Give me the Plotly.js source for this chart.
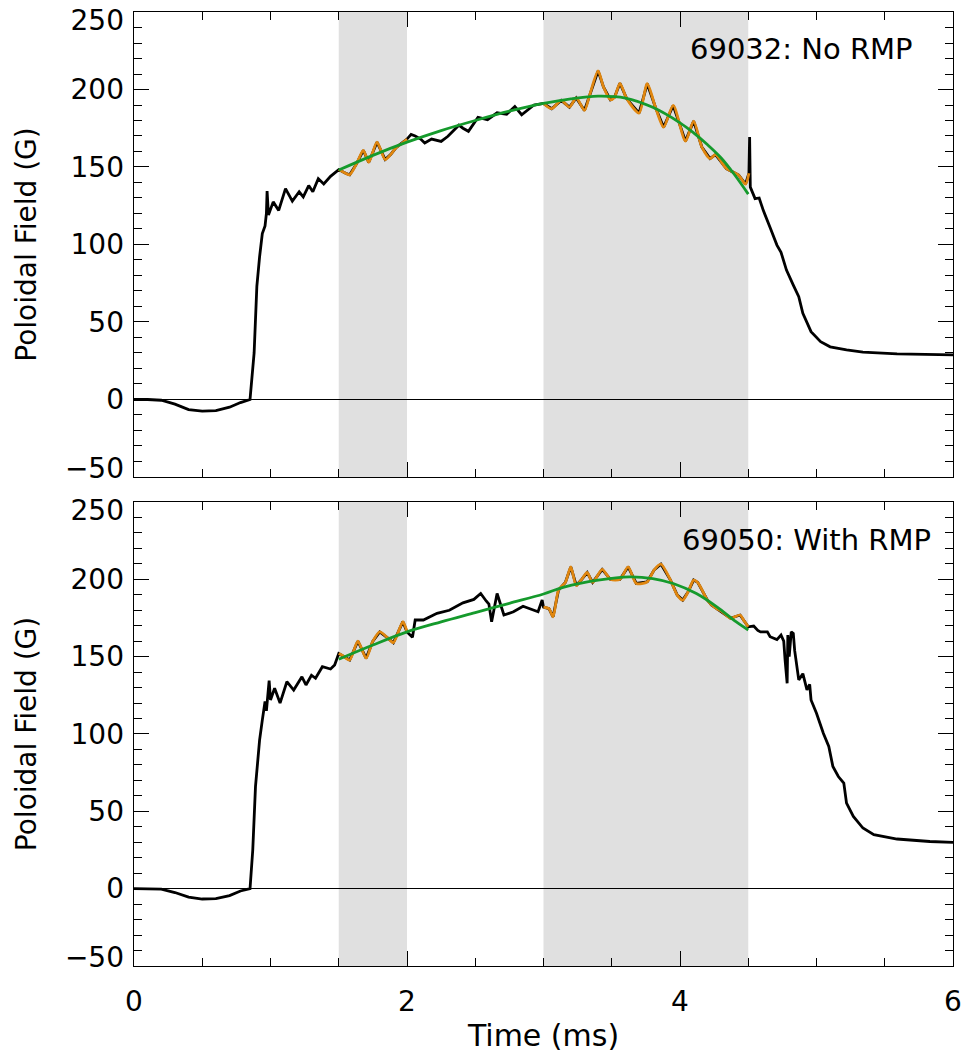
<!DOCTYPE html>
<html>
<head>
<meta charset="utf-8">
<script src="https://cdn.plot.ly/plotly-3.0.1.min.js"></script>
<style>html,body{margin:0;padding:0;background:#fff;}#chart{width:963px;height:1055px;}</style>
</head>
<body>
<div id="chart"></div>
<script>
// Shot 69032 (No RMP) - poloidal field trace
const time_69032 = [0,0.10,0.20,0.30,0.40,0.50,0.60,0.70,0.78,0.85,0.88,0.90,0.92,0.94,0.96,0.97,0.975,0.985,1.02,1.06,1.11,1.16,1.21,1.24,1.28,1.31,1.35,1.39,1.44,1.50,
  1.55,1.58,1.63,1.68,1.72,1.78,1.84,1.88,1.92,1.96,2.00,
  2.03,2.06,2.10,2.13,2.18,2.25,2.30,2.38,2.41,2.45,2.52,2.59,2.66,2.73,2.79,2.84,2.93,3.00,
  3.06,3.13,3.19,3.24,3.30,3.34,3.40,3.44,3.49,3.52,3.56,3.61,3.70,3.76,3.82,3.88,3.95,4.04,4.10,4.16,4.22,4.26,4.34,4.43,4.48,4.505,
  4.51,4.515,4.55,4.58,4.61,4.66,4.71,4.74,4.78,4.83,4.87,4.90,4.96,5.03,5.10,5.22,5.34,5.59,6.00];
const field_69032 = [0,0,-0.5,-3,-6.5,-7.5,-7.2,-5,-2,0,30,73,92,107,112,120,134.5,119,127.5,122,136,128,134,130.7,138,134,142.5,139,144,148.3,
  146,145,152,160.7,153,166,154.8,158,162.5,165,168,
  171,170,168,165.5,168,166.5,169.8,177,175,173,182,180.5,185,184,189,183.7,190,191,
  187.6,193,188.6,194.6,186.5,197,212,201.5,193.4,195,204,194,184.8,203.7,188.6,175.7,189.7,166.7,179.6,162.9,155.4,158,149,144.7,138.9,146,
  169.3,137,129.6,130,122,111,99.6,95,83.5,73.8,66.3,55.6,43.8,37.3,34,32,30.5,29.4,28.8];
// Fit curve 69032
const fitTime_69032 = [1.5,1.75,2.0,2.25,2.5,2.75,3.0,3.2,3.4,3.6,3.8,4.0,4.1,4.2,4.3,4.4,4.5];
const fitField_69032 = [148,157.5,166,173.5,180,186,191,194,195.7,194.5,188.5,178.5,172,164.5,156,145,132.5];

// Shot 69050 (With RMP)
const time_69050 = [0,0.10,0.20,0.30,0.40,0.50,0.60,0.70,0.78,0.85,0.87,0.89,0.92,0.94,0.96,0.97,0.99,1.00,1.03,1.07,1.12,1.17,1.23,1.26,1.30,1.33,1.38,1.44,1.47,1.50,
  1.53,1.58,1.64,1.70,1.75,1.80,1.86,1.90,1.97,2.00,
  2.04,2.06,2.12,2.17,2.22,2.31,2.41,2.49,2.54,2.58,2.60,2.62,2.66,2.71,2.78,2.85,2.90,2.96,2.99,
  3.00,3.04,3.07,3.11,3.16,3.20,3.24,3.28,3.32,3.36,3.43,3.49,3.56,3.62,3.68,3.76,3.81,3.86,3.93,3.98,4.02,4.06,4.10,4.13,4.20,4.23,4.27,4.31,4.37,4.44,4.47,4.50,
  4.54,4.57,4.59,4.64,4.66,4.71,4.74,4.76,4.77,4.785,4.79,4.80,4.815,4.83,4.84,4.87,4.90,4.93,4.95,4.96,5.00,5.05,5.09,5.12,5.16,5.20,5.22,5.27,5.34,5.42,5.59,5.83,6.00];
const field_69050 = [0,0,-0.3,-2.5,-5.5,-6.7,-6.5,-4.5,-1.5,0,25,66,96,109,121,115,134.5,122,129.6,120,133.8,128.4,137,131.7,138,136,143.5,142,144.6,152,
  150.6,147.8,160,149,160,166,162,159,172.6,166,
  162.5,173.7,173.7,176,178,180,184.8,187,190.8,186,184,172.5,190.8,176.9,179,182.6,181,179,186.6,
  182,181,175.8,193,198,208,196,200,204.4,198,206.4,200,200,208,197.3,198.4,206,209.8,199.5,189.8,186.6,192,199.5,198,186.6,183.5,181,179,174.8,176.9,173,169.3,
  169.8,167,166,166,162.9,161,164,160,147.8,132.8,164,150,166,165,154,135,139,128.5,132,122,113.4,100.5,91.9,79,72.5,68.2,55.3,46.7,39.2,34.9,32.1,30.5,29.9];
const fitTime_69050 = [1.5,1.75,2.0,2.25,2.5,2.75,3.0,3.15,3.4,3.63,3.8,3.95,4.12,4.27,4.41,4.5];
const fitField_69050 = [148.3,157.5,166,172.5,178.5,184.5,190.5,195,199.5,201.6,200.5,197.3,190.8,182.2,172.6,167.2];

// Analysis windows (ms)
const windows = [[1.5,2.0],[3.0,4.5]];
const labels = ['69032: No RMP','69050: With RMP'];
// y tick labels (end labels sit slightly inside the frame, as in the original)
const yTickText = ['\u221250','0','50','100','150','200','250'];
const yTickPos = [-44.5,0,50,100,150,200,244.5];

function windowed(t, y) {
  const ox = [], oy = [];
  windows.forEach((w, i) => {
    if (i > 0) { ox.push(null); oy.push(null); }
    for (let k = 0; k < t.length; k++) {
      if (t[k] >= w[0] && t[k] <= w[1] + 0.006) { ox.push(t[k]); oy.push(y[k]); }
    }
  });
  return [ox, oy];
}

const BLACK = '#000000', ORANGE = '#E0860F', GREEN = '#159A2C';
const traces = [];
function addShot(t, y, ft, fy, xa, ya, labAxis) {
  traces.push({x: t, y: y, xaxis: xa, yaxis: ya, mode: 'lines', line: {color: BLACK, width: 2.8}, hoverinfo: 'skip'});
  const [ox, oy] = windowed(t, y);
  traces.push({x: ox, y: oy, xaxis: xa, yaxis: ya, mode: 'lines', line: {color: ORANGE, width: 2.8, shape: 'spline', smoothing: 0.7}, connectgaps: false, hoverinfo: 'skip'});
  traces.push({x: ft, y: fy, xaxis: xa, yaxis: ya, mode: 'lines', line: {color: GREEN, width: 2.8, shape: 'spline'}, hoverinfo: 'skip'});
  // carrier for the tick-label axis (draws nothing visible)
  traces.push({x: [t[0]], y: [y[0]], xaxis: xa, yaxis: labAxis, mode: 'markers', marker: {opacity: 0, size: 1}, hoverinfo: 'skip'});
}
addShot(time_69032, field_69032, fitTime_69032, fitField_69032, 'x2', 'y2', 'y4');
addShot(time_69050, field_69050, fitTime_69050, fitField_69050, 'x', 'y', 'y3');

const FONT = 'DejaVu Sans';
const shapes = [];
['y', 'y2'].forEach(ya => {
  windows.forEach(w => {
    shapes.push({type: 'rect', xref: ya === 'y' ? 'x' : 'x2', yref: ya + ' domain', x0: w[0], x1: w[1], y0: 0, y1: 1,
      fillcolor: '#E0E0E0', line: {width: 0}, layer: 'below'});
  });
});

function xax(extra) {
  return Object.assign({
    range: [0, 6], tick0: 0, dtick: 2, ticks: 'inside', ticklen: 15, tickwidth: 1, tickcolor: '#000',
    minor: {dtick: 0.5, ticks: 'inside', ticklen: 8, tickwidth: 1, tickcolor: '#000', showgrid: false},
    showline: true, linecolor: '#000', linewidth: 1.2, mirror: 'ticks', showgrid: false, zeroline: false,
    tickfont: {family: FONT, size: 28, color: '#000'}, ticklabelstandoff: 10, fixedrange: true
  }, extra);
}
function yax(extra) {
  return Object.assign({
    range: [-50, 250], tick0: 0, dtick: 50, ticks: 'inside', ticklen: 15, tickwidth: 1, tickcolor: '#000',
    minor: {dtick: 10, ticks: 'inside', ticklen: 8, tickwidth: 1, tickcolor: '#000', showgrid: false},
    showline: true, linecolor: '#000', linewidth: 1.2, mirror: 'ticks', showgrid: false,
    zeroline: true, zerolinecolor: '#000', zerolinewidth: 1,
    showticklabels: false, fixedrange: true
  }, extra);
}
function ylab(extra) {
  return Object.assign({
    range: [-50, 250], side: 'left', showline: false, showgrid: false, zeroline: false, ticks: '',
    tickmode: 'array', tickvals: yTickPos, ticktext: yTickText,
    tickfont: {family: FONT, size: 28, color: '#000'}, ticklabelstandoff: 9,
    title: {text: 'Poloidal Field (G)', font: {family: FONT, size: 28, color: '#000'}, standoff: 20},
    fixedrange: true
  }, extra);
}

const layout = {
  width: 963, height: 1055,
  margin: {l: 134, r: 10, t: 12, b: 89},
  paper_bgcolor: '#fff', plot_bgcolor: 'rgba(0,0,0,0)',
  showlegend: false,
  font: {family: FONT, color: '#000'},
  xaxis: xax({anchor: 'y', domain: [0, 1], title: {text: 'Time (ms)', font: {family: FONT, size: 30, color: '#000'}, standoff: 8}}),
  xaxis2: xax({anchor: 'y2', domain: [0, 1], matches: 'x', showticklabels: false}),
  yaxis: yax({anchor: 'x', domain: [0, 0.4864]}),
  yaxis2: yax({anchor: 'x2', domain: [0.5126, 1]}),
  yaxis3: ylab({anchor: 'x', overlaying: 'y'}),
  yaxis4: ylab({anchor: 'x2', overlaying: 'y2'}),
  shapes: shapes,
  annotations: [
    {xref: 'x2 domain', yref: 'y2 domain', x: 0.954, y: 0.92, xanchor: 'right', yanchor: 'middle', showarrow: false,
     text: labels[0], font: {family: FONT, size: 29, color: '#000'}},
    {xref: 'x domain', yref: 'y domain', x: 0.976, y: 0.918, xanchor: 'right', yanchor: 'middle', showarrow: false,
     text: labels[1], font: {family: FONT, size: 29, color: '#000'}}
  ]
};

Plotly.newPlot('chart', traces, layout, {staticPlot: true, displayModeBar: false});
</script>
</body>
</html>
